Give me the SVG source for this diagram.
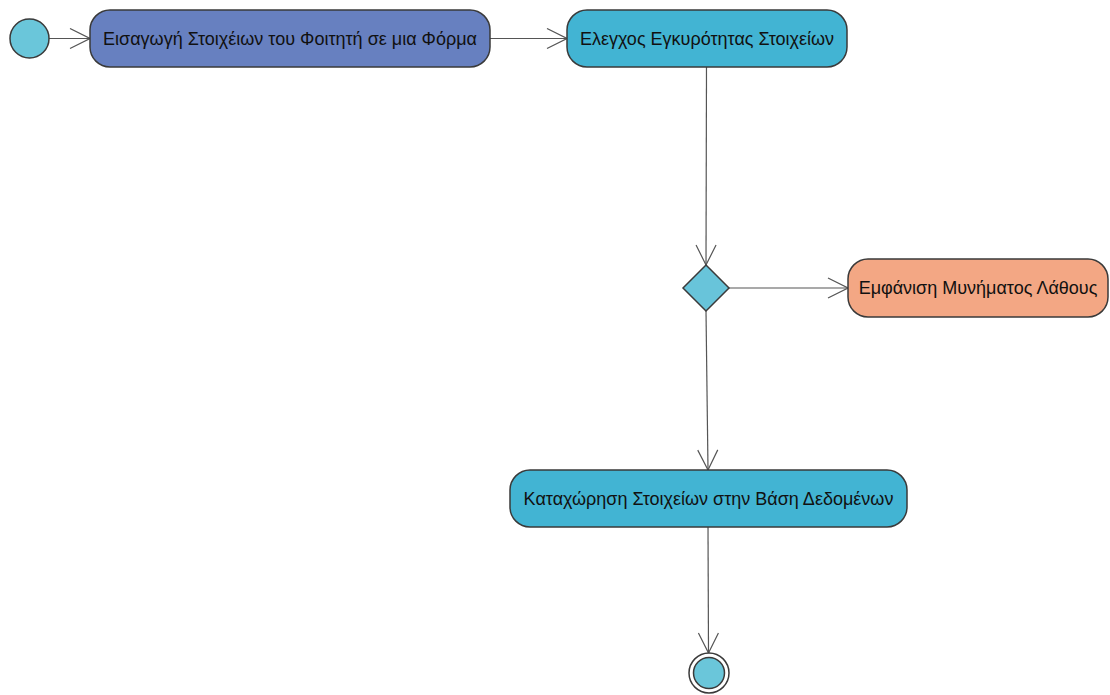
<svg xmlns="http://www.w3.org/2000/svg" width="1110" height="695" viewBox="0 0 1110 695">
  <style>
    .node { stroke: #3a3a3a; stroke-width: 1.5; }
    .label { font-family: "Liberation Sans", Arial, sans-serif; font-size: 18px; fill: #111; text-anchor: middle; dominant-baseline: central; }
    .edge { stroke: #555; stroke-width: 1.2; fill: none; marker-end: url(#open); }
  </style>
  <defs>
    <marker id="open" viewBox="0 0 22 22" refX="21" refY="11" markerWidth="22" markerHeight="22" markerUnits="userSpaceOnUse" orient="auto">
      <path d="M1 1 L21 11 L1 21" fill="none" stroke="#555" stroke-width="1.2"/>
    </marker>
  </defs>
  <rect width="1110" height="695" fill="#ffffff"/>

  <g id="connectors">
    <line class="edge" x1="49" y1="38.5" x2="90" y2="38.5"/>
    <line class="edge" x1="490" y1="38.5" x2="567" y2="38.5"/>
    <line class="edge" x1="706.5" y1="67" x2="706" y2="265"/>
    <line class="edge" x1="729" y1="288" x2="848" y2="288"/>
    <line class="edge" x1="706" y1="311" x2="708" y2="470"/>
    <line class="edge" x1="708" y1="527" x2="708.5" y2="653"/>
  </g>

  <g id="start">
    <circle class="node" cx="29.5" cy="38.5" r="19.5" fill="#6AC6DA"/>
  </g>

  <g id="enter-data">
    <rect class="node" x="90" y="10" width="400" height="57" rx="20" fill="#6780C0"/>
    <text class="label" x="290" y="38.5">Εισαγωγή Στοιχέιων του Φοιτητή σε μια Φόρμα</text>
  </g>

  <g id="validate">
    <rect class="node" x="567" y="10" width="280" height="57" rx="20" fill="#42B4D3"/>
    <text class="label" x="707" y="38.5">Ελεγχος Εγκυρότητας Στοιχείων</text>
  </g>

  <g id="decision">
    <polygon class="node" points="706,265 729,288 706,311 683,288" fill="#68C4DA"/>
  </g>

  <g id="show-error">
    <rect class="node" x="848" y="259" width="260" height="58" rx="20" fill="#F3A784"/>
    <text class="label" x="978" y="288">Εμφάνιση Μυνήματος Λάθους</text>
  </g>

  <g id="store-data">
    <rect class="node" x="510" y="470" width="397" height="57" rx="20" fill="#42B4D3"/>
    <text class="label" x="708.5" y="498.5">Καταχώρηση Στοιχείων στην Βάση Δεδομένων</text>
  </g>

  <g id="end">
    <circle class="node" cx="709" cy="673" r="20" fill="#ffffff"/>
    <circle class="node" cx="709" cy="673" r="15.5" fill="#6AC6DA"/>
  </g>
</svg>
